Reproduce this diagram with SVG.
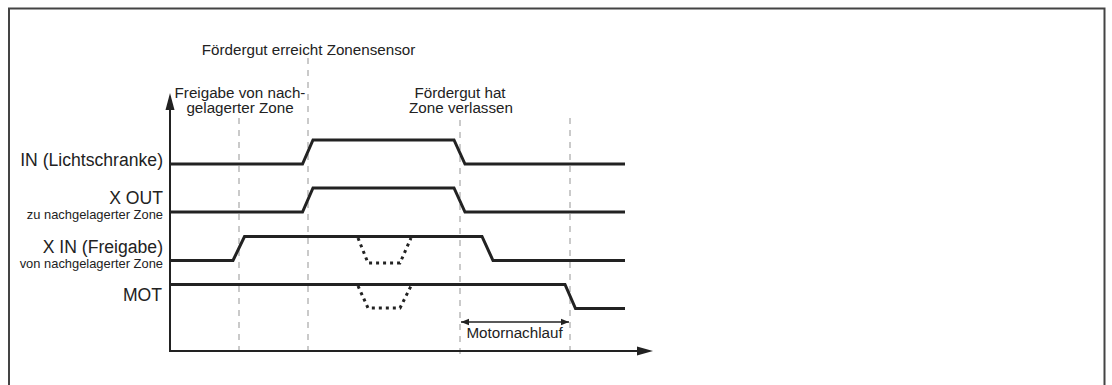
<svg xmlns="http://www.w3.org/2000/svg" width="1112" height="385" viewBox="0 0 1112 385">
  <style>
    text { font-family: "Liberation Sans", Arial, sans-serif; fill: #222; }
    .lbl { font-size: 17.6px; text-anchor: end; }
    .sub { font-size: 12.9px; text-anchor: end; }
    .note { font-size: 15.2px; text-anchor: middle; }
    .guide { stroke: #bdbdbd; stroke-width: 1.6; stroke-dasharray: 6 6; fill: none; }
    .sig { stroke: #222; stroke-width: 3; fill: none; stroke-linejoin: miter; }
    .alt { stroke: #222; stroke-width: 3; fill: none; stroke-dasharray: 3 4; }
    .axis { stroke: #222; stroke-width: 2; fill: none; }
  </style>
  <defs>
    <marker id="head" viewBox="0 0 10 10" refX="10" refY="5" markerWidth="8" markerHeight="8" markerUnits="userSpaceOnUse" orient="auto-start-reverse">
      <path d="M0,1 L10,5 L0,9 z" fill="#222"/>
    </marker>
  </defs>

  <rect width="1112" height="385" fill="#fff"/>
  <!-- frame, open at the bottom -->
  <path d="M9,390 V8.5 H1104.5 V390" fill="none" stroke="#444" stroke-width="2"/>

  <!-- event guide lines -->
  <g id="guides">
    <line class="guide" x1="239" y1="118" x2="239" y2="358"/>
    <line class="guide" x1="308" y1="58" x2="308" y2="358"/>
    <line class="guide" x1="460" y1="120" x2="460" y2="358"/>
    <line class="guide" x1="570" y1="118" x2="570" y2="358"/>
  </g>

  <!-- axes -->
  <g id="axes">
    <line class="axis" x1="170" y1="351" x2="170" y2="109"/>
    <path d="M170,93 L174.5,110 L165.5,110 z" fill="#222"/>
    <line class="axis" x1="169" y1="351" x2="639" y2="351"/>
    <path d="M653,351 L637,346.5 L637,355.5 z" fill="#222"/>
  </g>

  <!-- event annotations -->
  <g id="event-arrival">
    <text class="note" x="308.5" y="55">Fördergut erreicht Zonensensor</text>
  </g>
  <g id="event-release">
    <text class="note" x="240" y="98">Freigabe von nach-</text>
    <text class="note" x="240" y="113">gelagerter Zone</text>
  </g>
  <g id="event-left">
    <text class="note" x="460" y="98">Fördergut hat</text>
    <text class="note" x="461" y="113">Zone verlassen</text>
  </g>

  <!-- signal: IN -->
  <g id="sig-in">
    <text class="lbl" x="163" y="166">IN (Lichtschranke)</text>
    <polyline class="sig" points="170,164 302.5,164 313,140 454,140 465,164 625,164"/>
  </g>

  <!-- signal: X OUT -->
  <g id="sig-xout">
    <text class="lbl" x="163" y="204">X OUT</text>
    <text class="sub" x="163" y="219">zu nachgelagerter Zone</text>
    <polyline class="sig" points="170,212 302.5,212 313,188 454,188 465,212 625,212"/>
  </g>

  <!-- signal: X IN -->
  <g id="sig-xin">
    <text class="lbl" x="163" y="253">X IN (Freigabe)</text>
    <text class="sub" x="163" y="268">von nachgelagerter Zone</text>
    <polyline class="sig" points="170,260.5 233,260.5 244.5,236.5 482,236.5 493,260.5 625,260.5"/>
    <polyline class="alt" points="358,238 368,263 400,263 411,238"/>
  </g>

  <!-- signal: MOT -->
  <g id="sig-mot">
    <text class="lbl" x="162" y="301">MOT</text>
    <polyline class="sig" points="170,284.5 565,284.5 575.5,308.5 625,308.5"/>
    <polyline class="alt" points="358,286 368,308 400,308 411,286"/>
  </g>

  <!-- motor run-on interval -->
  <g id="connectors">
    <line x1="461" y1="322" x2="569" y2="322" stroke="#222" stroke-width="1.4" marker-start="url(#head)" marker-end="url(#head)"/>
  </g>
  <g id="runon-label">
    <text x="514.5" y="338" style="font-size:15.2px;text-anchor:middle">Motornachlauf</text>
  </g>
</svg>
